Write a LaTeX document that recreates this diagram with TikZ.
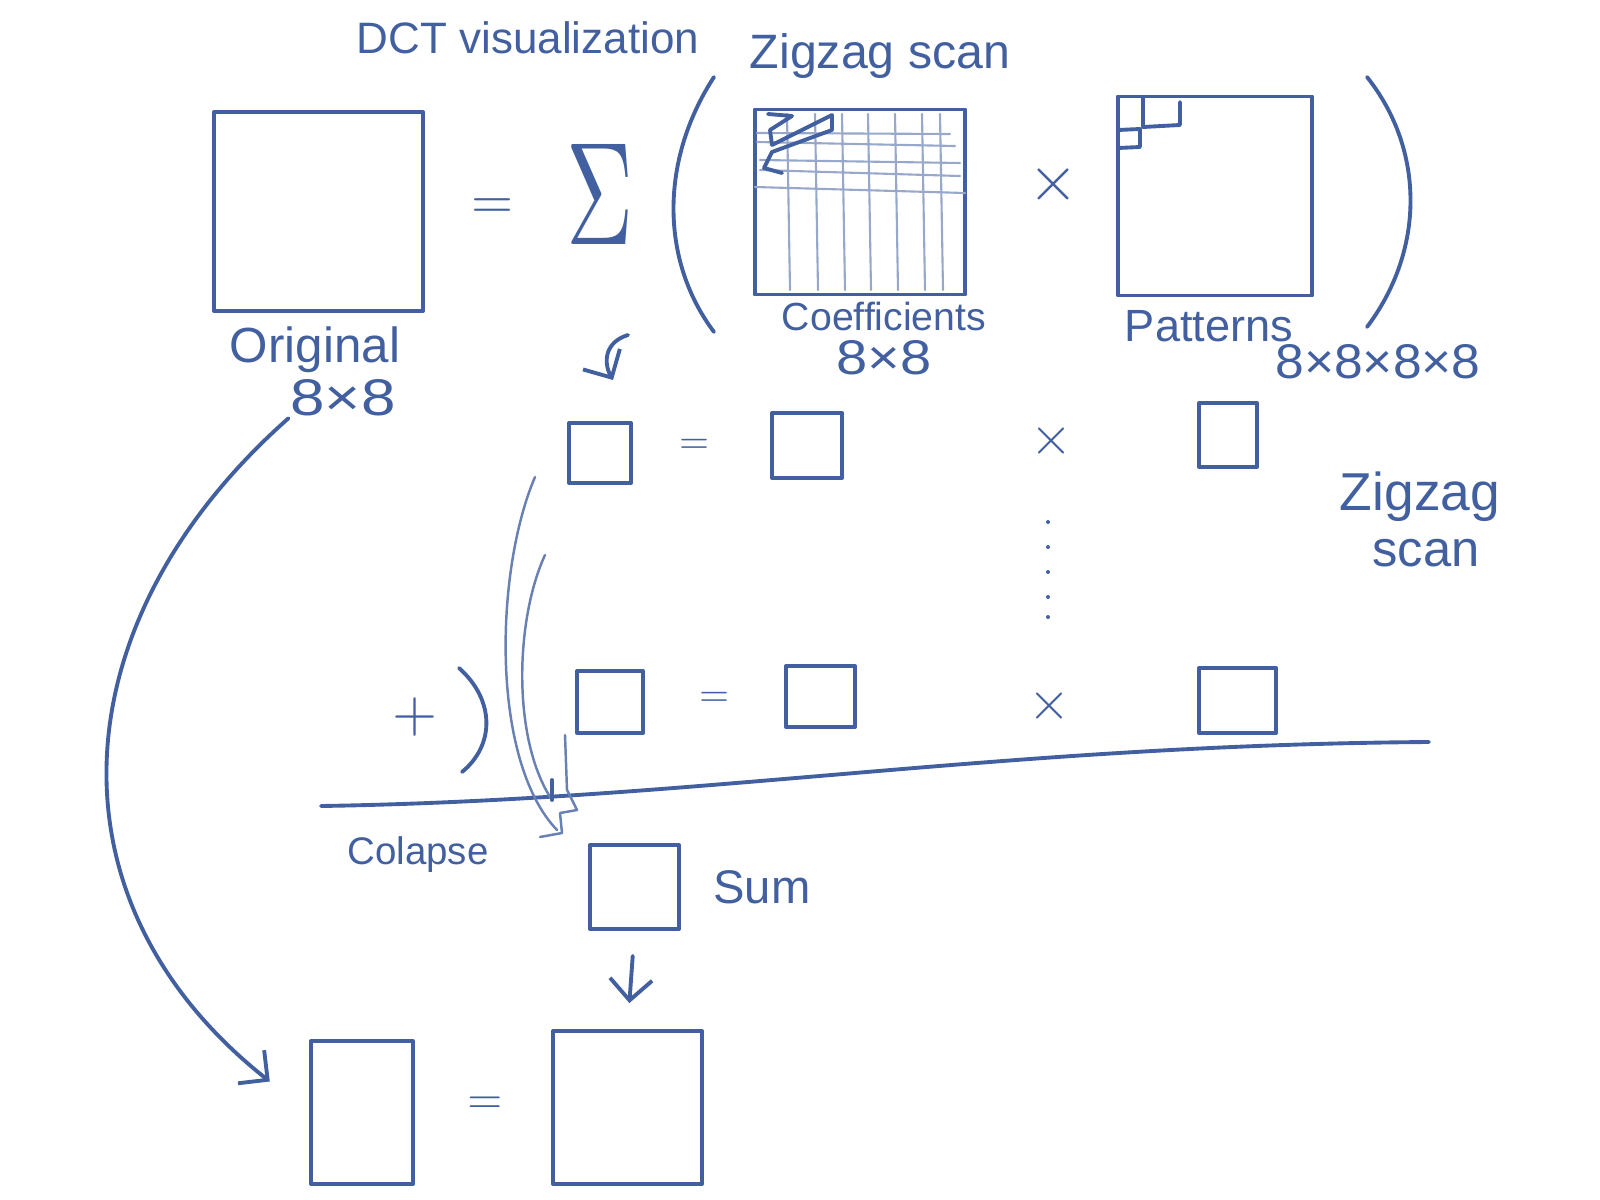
\documentclass[tikz,border=0pt]{standalone}
\usepackage{fontspec}
\setmainfont{Liberation Sans}
\usetikzlibrary{arrows.meta}
\definecolor{ink}{RGB}{66,96,160}
\newcommand{\hw}[2]{\resizebox{#1}{!}{#2}}
\newcommand{\hwh}[3]{\resizebox{#1}{#2}{#3}}
\begin{document}
\begin{tikzpicture}[x=0.01cm,y=-0.01cm, line width=1.1pt, color=ink, line cap=round, line join=round,
  sq/.style={draw, inner sep=0pt},
  lbl/.style={inner sep=0pt, text=ink},
  barb/.style={-{Straight Barb[length=6pt,width=12pt]}},
  gridline/.style={line width=0.6pt, ink!55},
  faint/.style={line width=0.7pt, ink!80}]
\useasboundingbox (0,0) rectangle (1600,1200);

% ---- titles
\node[lbl] (title) at (528,38) {\hw{3.42cm}{DCT visualization}};
\node[lbl] (zigtop) at (880,56) {\hw{2.6cm}{Zigzag scan}};

% ---- top equation
\node[sq, minimum width=2.09cm, minimum height=1.99cm] (orig) at (318.5,211.5) {};
\node[lbl] (eqtop) at (493,209) {\resizebox{0.42cm}{!}{$=$}};
\node[lbl] (sigma) at (600,194) {\resizebox{0.67cm}{1.0cm}{$\Sigma$}};
\draw (714,77) .. controls (660,160) and (660,260) .. (714,332);
\node[sq, minimum width=2.10cm, minimum height=1.85cm] (coef) at (860,202) {};
\node[lbl] (timestop) at (1054,184) {\resizebox{0.5cm}{!}{$\times$}};
\node[sq, minimum width=1.94cm, minimum height=1.99cm] (pat) at (1215,196) {};
\draw (1367,77) .. controls (1425,150) and (1425,250) .. (1367,327);

% coefficient grid
\foreach \gx in {787,815,842,868,895,922,940}
  \draw[gridline] (\gx,114) -- (\gx+3,290);
\draw[gridline] (757,133) -- (950,134);
\draw[gridline] (757,142) -- (955,146);
\draw[gridline] (760,160) -- (960,163);
\draw[gridline] (760,170) -- (960,176);
\draw[gridline] (755,187) -- (965,193);
% zigzag in coefficients
\draw (768,114) -- (792,116) -- (770,130) -- (772,145) -- (832,115) -- (832,130) -- (772,152) -- (764,168) -- (782,173);
% small patterns in pattern block
\draw (1143,98) -- (1143,127) -- (1180,125) -- (1180,102);
\draw (1118,130) -- (1140,129) -- (1140,147) -- (1118,148);

% ---- labels under top row
\node[lbl] (origlbl) at (315,350) {\hw{1.70cm}{Original}};
\node[lbl] (orig88) at (343,398) {\hwh{1.05cm}{0.36cm}{8×8}};
\node[lbl] (coeflbl) at (884,316) {\hw{2.04cm}{Coefficients}};
\node[lbl] (coef88) at (884,358) {\hwh{0.95cm}{0.34cm}{8×8}};
\node[lbl] (patlbl) at (1209,326) {\hw{1.68cm}{Patterns}};
\node[lbl] (pat8888) at (1378,362) {\hwh{2.05cm}{0.34cm}{8×8×8×8}};

% small curved arrow
\coordinate (ca1) at (628,335);
\coordinate (ca2) at (613,380);
\draw[barb] (ca1) .. controls (605,342) and (603,362) .. (ca2);

% ---- row 1
\node[sq, minimum width=0.62cm, minimum height=0.60cm] (r1a) at (600,453) {};
\node[lbl] (eq1) at (694,446) {\resizebox{0.3cm}{!}{$=$}};
\node[sq, minimum width=0.70cm, minimum height=0.65cm] (r1b) at (807,445.5) {};
\node[lbl] (x1) at (1051,441) {\resizebox{0.42cm}{!}{$\times$}};
\node[sq, minimum width=0.58cm, minimum height=0.64cm] (r1c) at (1228,435) {};

% dots
\foreach \dy in {522,547,572,597,617}
  \fill (1048,\dy) circle (2);

% right label
\node[lbl] (zigr) at (1420,497) {\hw{1.60cm}{Zigzag}};
\node[lbl] (scanr) at (1426,553) {\hw{1.07cm}{scan}};

% ---- row 2
\node[lbl] (plus) at (415,717) {\resizebox{0.45cm}{!}{$+$}};
\draw (459,668) .. controls (495,700) and (495,745) .. (462,772);
\node[sq, minimum width=0.66cm, minimum height=0.62cm] (r2a) at (610,702) {};
\node[lbl] (eq2) at (714,699) {\resizebox{0.3cm}{!}{$=$}};
\node[sq, minimum width=0.69cm, minimum height=0.61cm] (r2b) at (820.5,696.5) {};
\node[lbl] (x2) at (1049,706) {\resizebox{0.42cm}{!}{$\times$}};
\node[sq, minimum width=0.77cm, minimum height=0.65cm] (r2c) at (1237.5,700.5) {};

% sum line
\coordinate (lineL) at (321,806);
\coordinate (lineR) at (1429,742);
\draw (lineL) .. controls (700,800) and (1000,745) .. (lineR);

% collapse arrows
\coordinate (cA) at (535,477);
\coordinate (cB) at (545,555);
\coordinate (cC) at (565,735);
\draw[faint] (cA) .. controls (495,570) and (490,760) .. (557,830);
\draw[faint] (cB) .. controls (515,620) and (512,740) .. (552,800);
\draw (552,780) -- (552,800);
\draw[faint] (cC) -- (567,790) -- (577,810) -- (560,813) -- (562,833) -- (540,837);
\node[lbl] (collapse) at (418,855) {\hw{1.41cm}{Colapse}};

% ---- sum
\node[sq, minimum width=0.89cm, minimum height=0.84cm] (sum) at (634.5,887) {};
\node[lbl] (sumlbl) at (762,887) {\hw{0.97cm}{Sum}};

% ---- result
\node[sq, minimum width=1.02cm, minimum height=1.43cm] (res1) at (362,1112.5) {};
\node[lbl] (eq3) at (485,1105) {\resizebox{0.35cm}{!}{$=$}};
\node[sq, minimum width=1.49cm, minimum height=1.53cm] (res2) at (627.5,1107.5) {};

\draw[barb, shorten <=0.25cm, shorten >=0.26cm] (sum.south) -- (res2.north);
\draw[barb, shorten >=0.5cm] (orig88.south west) .. controls (60,620) and (40,900) .. (res1.west);
\end{tikzpicture}
\end{document}
